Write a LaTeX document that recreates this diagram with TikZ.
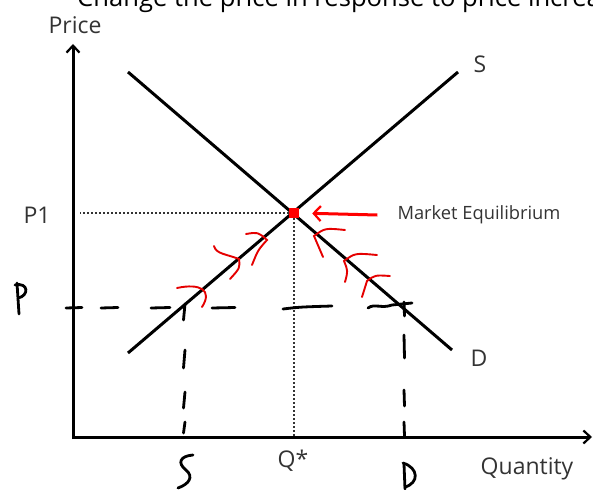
\documentclass[tikz,border=0pt]{standalone}
\usepackage{fontspec}
\setmainfont{Open Sans}
\usetikzlibrary{arrows.meta,positioning}

\begin{document}
\begin{tikzpicture}[x=1pt,y=-1pt,
  axis/.style={line width=3pt,-{Straight Barb[length=7pt,width=13pt,line width=2.2pt]}},
  curve/.style={line width=3pt},
  guide/.style={line width=2.4pt,black!80,dash pattern=on 2pt off 2pt},
  hand/.style={line width=2.8pt,line cap=round},
  redhand/.style={red!90!black,line width=1.9pt,line cap=round},
  lbl/.style={font=\fontsize{23}{23}\selectfont,text=black!80,inner sep=2pt}]
\useasboundingbox (0,0) rectangle (593,489);
\clip (0,0) rectangle (593,489);
\node[anchor=base west,inner sep=0,font=\fontsize{25.6}{25.6}\selectfont] (title) at (77,7) {Change the price in response to price increase};
\coordinate (O) at (73,437);
\coordinate (ytop) at (73,44);
\coordinate (xend) at (592,437);
\draw[axis] (73,439) -- (ytop);
\draw[axis] (72,437) -- (xend);
\node[lbl] (price) at (75,25) {Price};
\node[lbl] (quantity) at (527,469) {Quantity};
\coordinate (s0) at (128,353);
\coordinate (s1) at (458,72);
\coordinate (d0) at (128,72);
\coordinate (d1) at (452,350);
\draw[curve] (s0) -- (s1);
\draw[curve] (d0) -- (d1);
\node[lbl] (slbl) at (480,64) {S};
\node[lbl] (dlbl) at (479,358) {D};
\node[fill=red,minimum size=10pt,inner sep=0] (eq) at (294,213) {};
\node[lbl] (p1) at (37,215) {P1};
\node[lbl] (qstar) at (293,461) {Q*};
\coordinate (p1end) at (80,213);
\draw[guide] (eq.west) -- (p1end);
\draw[guide] (eq.south) -- (294,436);
\node[lbl,font=\fontsize{18.3}{18.3}\selectfont] (mkt) at (479,215) {Market Equilibrium};
\draw[red,line width=3pt,shorten >=13pt,-{Straight Barb[length=7pt,width=15pt,line width=2.2pt]}] ([xshift=-18pt]mkt.west) -- (eq.east);
% price below equilibrium
\foreach \a/\b in {66/82,101/118,151/170,212/235}
  \draw[hand] (\a,308) -- (\b,307.5);
\draw[hand] (283,309) .. controls (300,307) .. (332,306);
\draw[hand] (368,308) .. controls (375,303) and (381,309) .. (392,305) -- (412,303);
\foreach \t/\u in {304/320,350/368,392/408,422/433}
  \draw[hand] (185,\t) -- (183.5,\u);
\foreach \t/\u in {302/316,335/358,390/406,422/436}
  \draw[hand] (404,\t) -- (404.5,\u);
\draw[hand] (17,283) -- (19,314);
\draw[hand] (15,285) .. controls (29,282) and (29,296) .. (18,298);
\draw[hand] (193,455) .. controls (180,456) and (177,463) .. (186,470) .. controls (194,477) and (189,484) .. (178,488);
\draw[hand] (404,464) -- (405,489);
\draw[hand] (403,463) .. controls (419,468) and (419,483) .. (405,487);
% moves toward equilibrium
\draw[redhand] (177,288) .. controls (200,283) and (213,290) .. (202,307);
\draw[redhand] (214,246) .. controls (216,254) and (226,254) .. (239,259) .. controls (240,268) .. (230,279);
\draw[redhand] (246,234) .. controls (258,232) .. (267,240) .. controls (258,250) .. (252,265);
\draw[redhand] (345,230) .. controls (325,228) .. (314,236) .. controls (318,246) .. (323,257);
\draw[redhand] (377,255) .. controls (355,253) .. (344,261) .. controls (348,271) .. (345,282);
\draw[redhand] (390,276) .. controls (375,275) .. (367,281) .. controls (365,289) .. (362,297);
\end{tikzpicture}
\end{document}
